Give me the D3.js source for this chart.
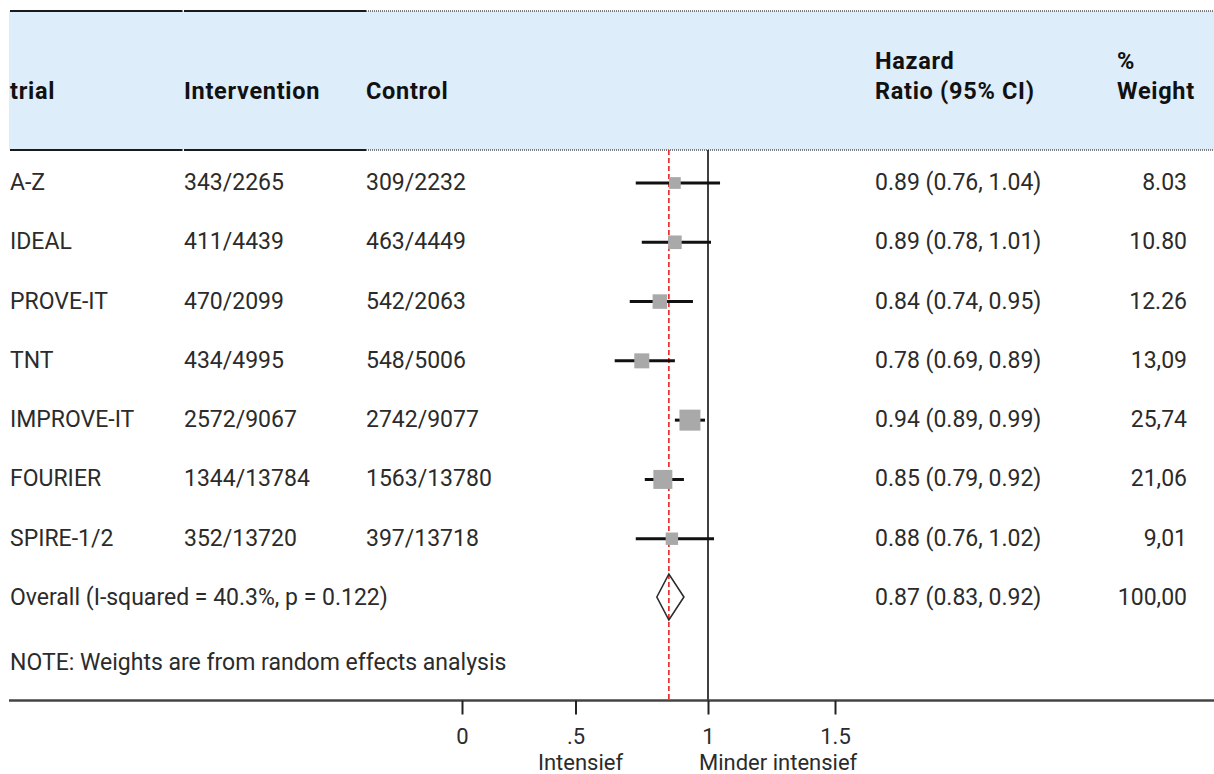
<!DOCTYPE html>
<html lang="en">
    <head>
        <meta charset="UTF-8">
        <title>Forest plot</title>
        <script type="text/javascript" src="https://d3js.org/d3.v7.min.js"></script>
        <style>
         body { margin: 0; background: #fff; font-family: Roboto, Arial, sans-serif; }
         .cell { font-size: 23px; fill: #2b2b2b; }
         .head { font-size: 23.5px; font-weight: bold; fill: #111; letter-spacing: 0.7px; }
         .foot { font-size: 22px; fill: #2b2b2b; }
        </style>
    </head>

    <body>
      <div id="svgcontainer"></div>
        <script>
            const width = 1214;
            const height = 774;

            // table data
            const trials = ["A-Z", "IDEAL", "PROVE-IT", "TNT", "IMPROVE-IT", "FOURIER", "SPIRE-1/2"];
            const intervention = ["343/2265", "411/4439", "470/2099", "434/4995", "2572/9067", "1344/13784", "352/13720"];
            const control = ["309/2232", "463/4449", "542/2063", "548/5006", "2742/9077", "1563/13780", "397/13718"];
            const hr = [0.89, 0.89, 0.84, 0.78, 0.94, 0.85, 0.88];
            const lower = [0.76, 0.78, 0.74, 0.69, 0.89, 0.79, 0.76];
            const upper = [1.04, 1.01, 0.95, 0.89, 0.99, 0.92, 1.02];
            const weights = [8.03, 10.80, 12.26, 13.09, 25.74, 21.06, 9.01];
            const weightLabels = ["8.03", "10.80", "12.26", "13,09", "25,74", "21,06", "9,01"];
            const overall = [0.87, 0.83, 0.92];
            const overallWeight = "100,00";
            const overallLabel = "Overall (I-squared = 40.3%, p = 0.122)";
            const note = "NOTE: Weights are from random effects analysis";
            const tickValues = [0, 0.5, 1, 1.5];
            const tickLabels = ["0", ".5", "1", "1.5"];

            const svg = d3.select("#svgcontainer")
                .append("svg")
                .attr("width", width)
                .attr("height", height);

            // marks use a plain linear scale (1 sits on the no-effect line)
            const x = d3.scaleLinear().domain([0.5, 1]).range([557.5, 708]);
            // the printed axis labels are not spaced evenly in the original
            const tickX = d3.scaleLinear().domain(tickValues).range([462, 575.5, 708, 835]);
            const y = d3.scaleLinear().domain([0, 7]).range([182, 597]);
            const size = d3.scaleSqrt().domain([0, 25.74]).range([0, 21]);

            const fmt = d3.format(".2f");
            const ci = (m, l, u) => `${fmt(m)} (${fmt(l)}, ${fmt(u)})`;

            // header band
            const headTop = 11, headBottom = 150;
            svg.append("rect")
                .attr("x", 9).attr("y", headTop)
                .attr("width", width - 9).attr("height", headBottom - headTop)
                .attr("fill", "#deedfa");

            [headTop, headBottom].forEach(yy => {
                [[10, 182.5], [184, 366]].forEach(seg => {
                    svg.append("line")
                        .attr("x1", seg[0]).attr("x2", seg[1])
                        .attr("y1", yy).attr("y2", yy)
                        .attr("stroke", "#1a1a1a").attr("stroke-width", 2.2);
                });
                svg.append("line")
                    .attr("x1", 366).attr("x2", width)
                    .attr("y1", yy).attr("y2", yy)
                    .attr("stroke", "#555").attr("stroke-width", 1.5)
                    .attr("stroke-dasharray", "1,1");
            });

            const head = svg.append("g").attr("class", "head");
            head.append("text").attr("x", 10).attr("y", 91).attr("dy", "0.35em").text("trial");
            head.append("text").attr("x", 184).attr("y", 91).attr("dy", "0.35em").text("Intervention");
            head.append("text").attr("x", 366).attr("y", 91).attr("dy", "0.35em").text("Control");
            head.append("text").attr("x", 875).attr("y", 61).attr("dy", "0.35em").text("Hazard");
            head.append("text").attr("x", 875).attr("y", 91).attr("dy", "0.35em").text("Ratio (95% CI)");
            head.append("text").attr("x", 1117).attr("y", 61).attr("dy", "0.35em").text("%");
            head.append("text").attr("x", 1117).attr("y", 91).attr("dy", "0.35em").text("Weight");

            // reference lines
            svg.append("line")
                .attr("x1", x(1)).attr("x2", x(1))
                .attr("y1", headBottom).attr("y2", 700)
                .attr("stroke", "#111").attr("stroke-width", 1.6);
            svg.append("line")
                .attr("x1", x(overall[0])).attr("x2", x(overall[0]))
                .attr("y1", headBottom).attr("y2", 700)
                .attr("stroke", "#e8231e").attr("stroke-width", 1.6)
                .attr("stroke-dasharray", "5,3");

            // table rows
            const rows = svg.append("g").attr("class", "cell")
                .selectAll("g").data(trials).enter().append("g")
                .attr("transform", (d, i) => `translate(0,${y(i)})`);
            rows.append("text").attr("x", 10).attr("dy", "0.35em").text(d => d);
            rows.append("text").attr("x", 184).attr("dy", "0.35em").text((d, i) => intervention[i]);
            rows.append("text").attr("x", 366).attr("dy", "0.35em").text((d, i) => control[i]);
            rows.append("text").attr("x", 875).attr("dy", "0.35em").text((d, i) => ci(hr[i], lower[i], upper[i]));
            rows.append("text").attr("x", 1187).attr("dy", "0.35em").attr("text-anchor", "end").text((d, i) => weightLabels[i]);

            // confidence intervals and weighted squares
            rows.append("line")
                .attr("x1", (d, i) => x(lower[i])).attr("x2", (d, i) => x(upper[i]))
                .attr("y1", 1).attr("y2", 1)
                .attr("stroke", "#111").attr("stroke-width", 3);
            rows.append("rect")
                .attr("x", (d, i) => x(hr[i]) - size(weights[i]) / 2)
                .attr("y", (d, i) => 1 - size(weights[i]) / 2)
                .attr("width", (d, i) => size(weights[i]))
                .attr("height", (d, i) => size(weights[i]))
                .attr("fill", "#a9a9a9");

            // overall row
            const oy = y(7);
            const cells = svg.append("g").attr("class", "cell");
            cells.append("text").attr("x", 10).attr("y", oy).attr("dy", "0.35em").text(overallLabel);
            cells.append("text").attr("x", 875).attr("y", oy).attr("dy", "0.35em").text(ci(overall[0], overall[1], overall[2]));
            cells.append("text").attr("x", 1187).attr("y", oy).attr("dy", "0.35em").attr("text-anchor", "end").text(overallWeight);
            cells.append("text").attr("x", 10).attr("y", 662).attr("dy", "0.35em").text(note);

            const dh = 23;
            svg.append("path")
                .attr("d", d3.line()([
                    [x(overall[1]), oy], [x(overall[0]), oy - dh],
                    [x(overall[2]), oy], [x(overall[0]), oy + dh]
                ]) + "Z")
                .attr("fill", "none")
                .attr("stroke", "#2b2b2b").attr("stroke-width", 1.6);

            // bottom axis
            svg.append("line")
                .attr("x1", 9).attr("x2", width)
                .attr("y1", 700.5).attr("y2", 700.5)
                .attr("stroke", "#444").attr("stroke-width", 2.5);

            const axis = svg.append("g")
                .attr("transform", "translate(0,700.5)")
                .call(d3.axisBottom(tickX)
                    .tickValues(tickValues)
                    .tickFormat((d, i) => tickLabels[i])
                    .tickSize(14)
                    .tickPadding(14));
            axis.select(".domain").remove();
            axis.selectAll(".tick line").attr("stroke", "#222").attr("stroke-width", 2);
            axis.selectAll(".tick text")
                .attr("font-family", "Roboto, Arial, sans-serif")
                .attr("font-size", 22).attr("fill", "#2b2b2b");

            svg.append("text").attr("class", "foot")
                .attr("x", tickX(0.5) + 5).attr("y", 762).attr("dy", "0.35em")
                .attr("text-anchor", "middle").text("Intensief");
            svg.append("text").attr("class", "foot")
                .attr("x", tickX(1) - 9).attr("y", 762).attr("dy", "0.35em")
                .text("Minder intensief");
        </script>
    </body>
</html>
